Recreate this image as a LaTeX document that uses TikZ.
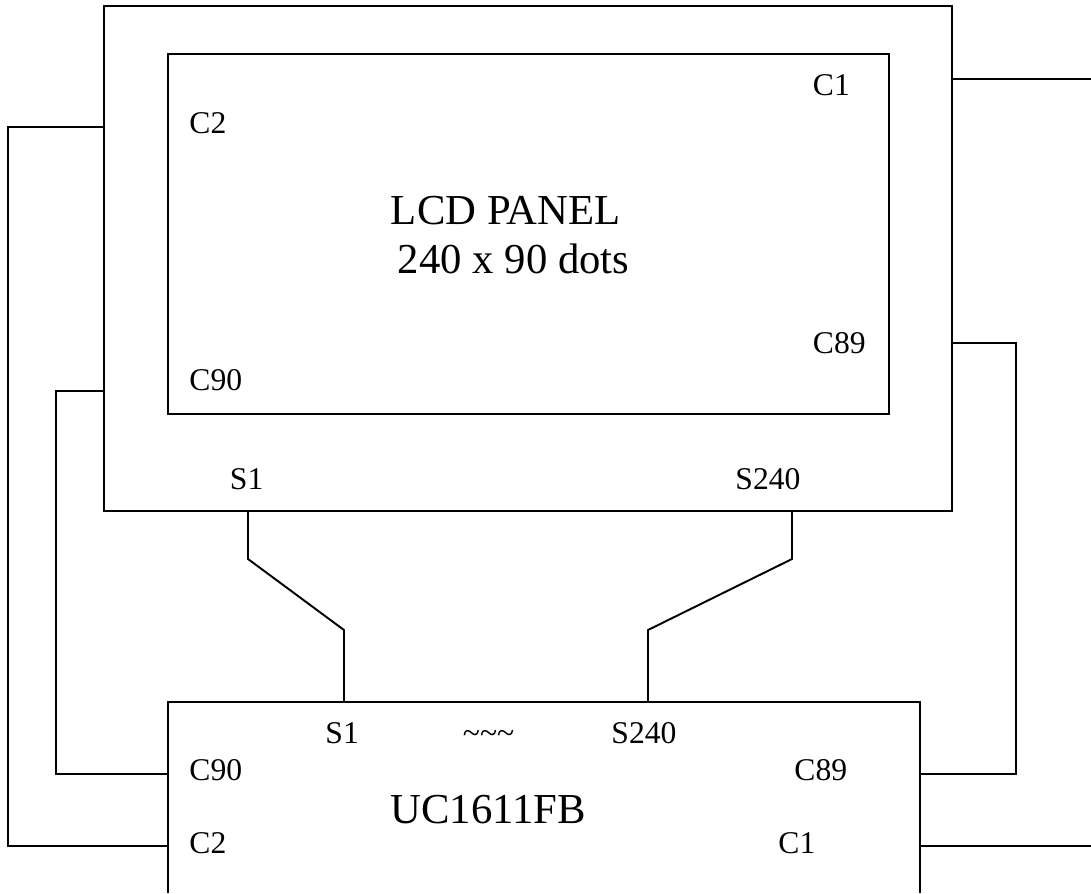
\documentclass[tikz,border=0pt]{standalone}
\usepackage{fontspec}
\setmainfont{Liberation Serif}
\usetikzlibrary{positioning}
\tikzset{
  block/.style={rectangle, inner sep=0pt, outer sep=0pt},
  pin/.style={anchor=base west, inner sep=0pt, font=\fontsize{18}{22}\selectfont},
  title/.style={anchor=base west, inner sep=0pt, font=\fontsize{24.3}{28}\selectfont},
  wire/.style={line width=1.1pt, line join=miter}
}
\begin{document}
\begin{tikzpicture}[x=0.02cm, y=-0.02cm, wire]
  \useasboundingbox (0,0) rectangle (1091,893);
  % panel and controller
  \node[block, draw, minimum width=16.96cm, minimum height=10.1cm] (glass) at (528,258.5) {};
  \node[block, draw, minimum width=14.42cm, minimum height=7.2cm] (panel) at (528.5,234) {};
  \node[block, minimum width=15.04cm, minimum height=3.82cm] (chip) at (544,797.5) {};
  \draw (chip.south west) -- (chip.north west) -- (chip.north east) -- (chip.south east);
  % labels
  \node[title] (panelname) at (390,224) {LCD PANEL};
  \node[title] (panelsize) at (397,273) {240 x 90 dots};
  \node[title] (chipname) at (389.5,823) {UC1611FB};
  \node[pin] (panelCone) at (812,95) {C1};
  \node[pin] (panelCtwo) at (188.5,133) {C2};
  \node[pin] (panelCeightynine) at (812,353) {C89};
  \node[pin] (panelCninety) at (188.5,390.5) {C90};
  \node[pin] (glassSone) at (229,489) {S1};
  \node[pin] (glassSlast) at (734.5,489) {S240};
  \node[pin] (chipSone) at (324.5,743) {S1};
  \node[pin] (chipdots) at (462,743) {\char`\~\char`\~\char`\~};
  \node[pin] (chipSlast) at (610.5,743) {S240};
  \node[pin] (chipCninety) at (188.5,780) {C90};
  \node[pin] (chipCeightynine) at (793.5,780) {C89};
  \node[pin] (chipCtwo) at (188.5,853) {C2};
  \node[pin] (chipCone) at (777.5,853) {C1};
  % wire ends
  \coordinate (a1) at (952,79);
  \coordinate (a2) at (1091,79);
  \coordinate (b1) at (104,127);
  \coordinate (b2) at (168,846);
  \coordinate (c1) at (104,391);
  \coordinate (c2) at (168,774);
  \coordinate (d1) at (952,343);
  \coordinate (d2) at (920,774);
  \coordinate (e1) at (920,846);
  \coordinate (e2) at (1091,846);
  \coordinate (f1) at (248,511);
  \coordinate (f2) at (344,702);
  \coordinate (g1) at (792,511);
  \coordinate (g2) at (648,702);
  % wires
  \draw (a1) -- (a2);
  \draw (b1) -- ++(-96,0) |- (b2);
  \draw (c1) -- ++(-48,0) |- (c2);
  \draw (d1) -- ++(64,0) |- (d2);
  \draw (e1) -- (e2);
  \draw (f1) -- ++(0,48) -- (344,630) -- (f2);
  \draw (g1) -- ++(0,48) -- (648,630) -- (g2);
\end{tikzpicture}
\end{document}
